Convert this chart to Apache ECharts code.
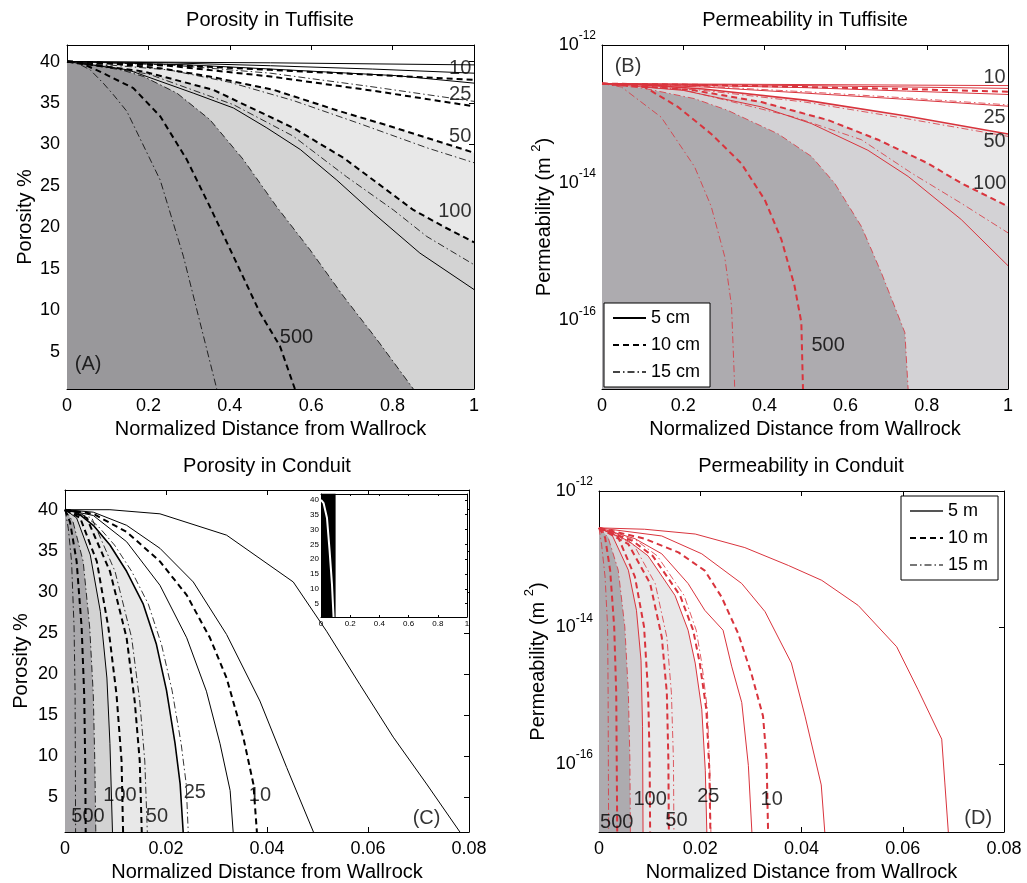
<!DOCTYPE html>
<html><head><meta charset="utf-8">
<script src="https://cdn.jsdelivr.net/npm/echarts@6/dist/echarts.min.js"></script>
<style>html,body{margin:0;padding:0;background:#fff}#c{width:1027px;height:883px}</style>
</head><body><div id="c"></div>
<script>
// ---------- tick labels ----------
const porosityTicks = [5,10,15,20,25,30,35,40];
const permTicks = [1e-16,1e-14,1e-12];

// ---------- Panel A: Porosity in Tuffisite (x: normalized distance, y: porosity %) ----------
const aTop1 = [[0,40],[0.5,39.85],[1,39.6]];
const aTop2 = [[0,40],[0.25,39.85],[0.5,39.5],[0.75,39.1],[1,38.6]];
const aTop3 = [[0,40],[0.25,39.6],[0.5,39.0],[0.75,38.4],[1,37.8]];
const aTop4 = [[0,40],[0.3,39.6],[0.5,39.1],[0.81,38.3],[1,37.4]];
const aTop5 = [[0,40],[0.25,39.6],[0.5,38.6],[0.744,37.0],[1,35.2]];
const aTop6 = [[0,40],[0.25,39.5],[0.5,38.2],[0.75,36.5],[1,34.6]];
const a50Dash = [[0,40],[0.1,39.8],[0.229,39.2],[0.35,38.2],[0.507,36.6],[0.671,34.0],[0.794,32.2],[0.949,29.8],[1,29.0]];
const a50DashDot = [[0,40],[0.25,39.0],[0.4,37.5],[0.556,35.3],[0.72,32.5],[0.884,29.6],[1,27.8]];
const a100Dash = [[0,40],[0.188,38.8],[0.359,36.6],[0.556,32.0],[0.679,28.4],[0.761,25.4],[0.851,22.1],[0.925,20.1],[1,18.2]];
const a100DashDot = [[0,40],[0.2,38.5],[0.409,34.8],[0.556,31.0],[0.687,26.1],[0.802,22.1],[0.884,18.9],[1,15.5]];
const a100Solid = [[0,40],[0.15,39.0],[0.31,36.2],[0.409,34.4],[0.491,32.0],[0.573,29.4],[0.663,25.7],[0.753,21.7],[0.867,16.9],[1,12.5]];
const a500Edge = [[0,40],[0.1,39.5],[0.188,38.2],[0.27,36.2],[0.351,33.0],[0.433,28.2],[0.515,22.5],[0.597,17.3],[0.679,11.7],[0.761,6.5],[0.851,0.5]];
const a500Dash = [[0,40],[0.04,39.7],[0.089,38.6],[0.13,37.6],[0.163,36.8],[0.229,33.4],[0.294,28.2],[0.351,22.5],[0.409,16.5],[0.474,9.7],[0.523,5.7],[0.56,0.5]];
const a500DashDot = [[0,40],[0.03,39.7],[0.057,39.0],[0.089,37.4],[0.114,36.0],[0.147,34.0],[0.229,25.7],[0.286,16.5],[0.327,8.5],[0.368,0.5]];
const labelsA = [['10',0.966,39.2],['25',0.966,36.0],['50',0.966,31.0],['100',0.953,21.9],['500',0.564,6.7],['(A)',0.052,3.5]];

// ---------- Panel B: Permeability in Tuffisite (m^2) ----------
const bTop1 = [[0,2.75e-13],[0.5,2.66e-13],[1,2.57e-13]];
const bTop2 = [[0,2.75e-13],[0.5,2.57e-13],[1,2.34e-13]];
const bTop3 = [[0,2.75e-13],[0.25,2.63e-13],[0.5,2.45e-13],[0.75,2.29e-13],[1,2.09e-13]];
const bTop4 = [[0,2.75e-13],[0.5,2.40e-13],[0.75,2.14e-13],[1,1.91e-13]];
const bTop5 = [[0,2.75e-13],[0.25,2.51e-13],[0.5,2.09e-13],[0.75,1.70e-13],[1,1.35e-13]];
const bTop6 = [[0,2.75e-13],[0.25,2.45e-13],[0.5,2.0e-13],[0.75,1.62e-13],[1,1.29e-13]];
const b50Top = [[0,2.75e-13],[0.1,2.63e-13],[0.25,2.29e-13],[0.5,1.58e-13],[0.75,9.3e-14],[1,5.1e-14]];
const b50DashDot = [[0,2.75e-13],[0.25,2.19e-13],[0.5,1.48e-13],[0.75,8.5e-14],[1,4.7e-14]];
const b100Dash = [[0,2.75e-13],[0.1,2.51e-13],[0.228,2.19e-13],[0.393,1.48e-13],[0.557,8.1e-14],[0.68,4.2e-14],[0.803,1.9e-14],[0.885,9.8e-15],[1,4.5e-15]];
const b100DashDot = [[0,2.75e-13],[0.2,2.24e-13],[0.475,8.9e-14],[0.639,4.2e-14],[0.762,1.38e-14],[0.885,5.0e-15],[1,1.86e-15]];
const b100Solid = [[0,2.75e-13],[0.2,2.19e-13],[0.393,1.26e-13],[0.516,7.2e-14],[0.655,2.95e-14],[0.754,1.23e-14],[0.885,2.9e-15],[1,6.2e-16]];
const b500Edge = [[0,2.75e-13],[0.105,2.34e-13],[0.228,1.66e-13],[0.31,1.12e-13],[0.434,5.1e-14],[0.516,2.4e-14],[0.573,9.8e-15],[0.639,2.3e-15],[0.688,4.9e-16],[0.746,6.6e-17],[0.754,1e-17]];
const b500Dash = [[0,2.75e-13],[0.105,2.45e-13],[0.187,1.26e-13],[0.269,5.1e-14],[0.343,1.9e-14],[0.401,5.6e-15],[0.442,1.48e-15],[0.474,3.2e-16],[0.491,9.3e-17],[0.495,1e-17]];
const b500DashDot = [[0,2.75e-13],[0.048,2.45e-13],[0.146,8.9e-14],[0.228,1.7e-14],[0.269,4.5e-15],[0.302,8.5e-16],[0.319,1.62e-16],[0.327,1e-17]];
const labelsB = [['(B)',0.064,4.8e-13],['10',0.967,3.4e-13],['25',0.967,8.9e-14],['50',0.967,3.9e-14],['100',0.955,9.8e-15],['500',0.557,4.3e-17]];

// ---------- Panel C: Porosity in Conduit ----------
const cS1 = [[0,40],[0.0089,40.0],[0.0188,39.5],[0.032,36.9],[0.0452,31.2],[0.0518,25.2],[0.0584,18.7],[0.065,12.3],[0.0716,6.6],[0.0782,0.75]];
const cS2 = [[0,40],[0.0056,39.7],[0.0122,38.1],[0.0188,35.3],[0.0254,31.2],[0.032,24.8],[0.0386,16.7],[0.0439,8.6],[0.0492,0.75]];
const cD1 = [[0,40],[0.0056,39.5],[0.0122,37.3],[0.0188,33.7],[0.0241,29.6],[0.0287,24.4],[0.032,19.5],[0.0353,12.3],[0.0373,6.6],[0.038,0.75]];
const cS3 = [[0,40],[0.0056,39.3],[0.0122,36.1],[0.0188,30.8],[0.0241,24.4],[0.028,17.9],[0.0307,11.5],[0.0327,5.8],[0.0333,0.75]];
const cLight = [[0,40],[0.0023,39.7],[0.0056,38.1],[0.0089,35.7],[0.0122,32.5],[0.0155,28.5],[0.0181,23.6],[0.0201,18.0],[0.0218,11.5],[0.0228,6.6],[0.0234,0.75]];
const cLightDashDot = [[0,40],[0.0028,39.7],[0.0064,38.1],[0.0098,35.7],[0.0132,32.5],[0.0165,28.5],[0.0191,23.6],[0.0212,18.0],[0.023,11.5],[0.024,6.6],[0.0244,0.75]];
const cG = [[0,40],[0.0043,39.0],[0.0089,32.5],[0.0122,24.4],[0.0138,16.7],[0.0148,9.4],[0.0152,0.75]];
const cH = [[0,40],[0.0053,39.0],[0.0099,32.5],[0.0132,24.4],[0.0148,16.7],[0.0158,9.4],[0.0163,0.75]];
const cE = [[0,40],[0.003,39.0],[0.0063,33.7],[0.0086,25.6],[0.0102,17.5],[0.0112,9.4],[0.0115,0.75]];
const cMedium = [[0,40],[0.0023,39.0],[0.005,34.5],[0.007,27.6],[0.0083,19.5],[0.0089,11.5],[0.0094,0.75]];
const cDark = [[0,40],[0.0016,38.5],[0.0036,33.7],[0.0049,25.6],[0.0056,17.5],[0.0059,9.4],[0.0061,0.75]];
const cB = [[0,40],[0.001,38.5],[0.0023,33.7],[0.0033,25.6],[0.0038,17.5],[0.004,9.4],[0.0041,0.75]];
const cA = [[0,40],[0.00066,37.7],[0.0013,33.7],[0.0018,25.6],[0.002,17.5],[0.0021,0.75]];
const labelsC = [['500',0.00455,2.6],['100',0.0109,5.15],['50',0.0182,2.7],['25',0.0257,5.6],['10',0.0386,5.15],['(C)',0.0716,2.4]];
// inset (full normalized width)
const insetBand = [[0,42],[0.1,42]];
const insetCurve = [[0,40],[0.018,38.9],[0.041,33.9],[0.059,22.8],[0.075,11.7],[0.086,0.5]];

// ---------- Panel D: Permeability in Conduit ----------
const dS1 = [[0,2.88e-13],[0.009,2.75e-13],[0.019,2.34e-13],[0.0288,1.48e-13],[0.0374,8.1e-14],[0.044,4.9e-14],[0.0512,2.1e-14],[0.0588,5.2e-15],[0.063,1.23e-15],[0.0677,2.3e-16],[0.0683,5.4e-17],[0.069,1e-17]];
const dS2 = [[0,2.88e-13],[0.0124,2.19e-13],[0.0203,1.2e-13],[0.0282,4.4e-14],[0.0328,1.7e-14],[0.038,3.0e-15],[0.0407,5.0e-16],[0.0439,4.9e-17],[0.0446,1e-17]];
const dD1 = [[0,2.88e-13],[0.009,2.0e-13],[0.0157,1.26e-13],[0.0209,6.8e-14],[0.0242,2.8e-14],[0.0275,8.1e-15],[0.0301,2.1e-15],[0.0324,5.0e-16],[0.0331,1.17e-16],[0.0334,1e-17]];
const dS3 = [[0,2.88e-13],[0.0071,2.0e-13],[0.0124,1.2e-13],[0.0176,4.4e-14],[0.0209,1.78e-14],[0.0245,9.1e-15],[0.0262,2.7e-15],[0.0282,7.9e-16],[0.0295,9.5e-17],[0.0302,1e-17]];
const dLight = [[0,2.88e-13],[0.0058,1.86e-13],[0.0097,1.12e-13],[0.015,2.95e-14],[0.0176,9.1e-15],[0.019,3.0e-15],[0.0203,6.3e-16],[0.021,7.9e-17],[0.0213,1e-17]];
const dLightDash = [[0,2.88e-13],[0.0066,1.86e-13],[0.0106,1.12e-13],[0.016,2.95e-14],[0.0186,9.1e-15],[0.0199,3.0e-15],[0.0212,6.3e-16],[0.0218,7.9e-17],[0.022,1e-17]];
const dLightDashDot = [[0,2.88e-13],[0.0075,1.86e-13],[0.0115,1.12e-13],[0.0168,2.95e-14],[0.0192,9.1e-15],[0.0203,3.0e-15],[0.0214,6.3e-16],[0.0219,7.9e-17],[0.0221,1e-17]];
const dF = [[0,2.88e-13],[0.0058,1.66e-13],[0.0101,4.4e-14],[0.0124,7.2e-15],[0.0134,1.1e-15],[0.0137,1.17e-16],[0.0138,1e-17]];
const dG = [[0,2.88e-13],[0.0068,1.66e-13],[0.0111,4.4e-14],[0.0134,7.2e-15],[0.0143,1.1e-15],[0.0147,1.17e-16],[0.0148,1e-17]];
const dMedium = [[0,2.88e-13],[0.0025,2.34e-13],[0.0058,6.9e-14],[0.0074,1.78e-14],[0.0083,3.3e-15],[0.0086,3.5e-16],[0.0087,1e-17]];
const dE = [[0,2.88e-13],[0.0038,2.09e-13],[0.0071,5.5e-14],[0.0089,1.02e-14],[0.0097,1.1e-15],[0.01,1.17e-16],[0.0101,1e-17]];
const dDark = [[0,2.88e-13],[0.0018,2.09e-13],[0.0038,6.9e-14],[0.0051,1.02e-14],[0.0058,1.1e-15],[0.0061,1.17e-16],[0.0062,1e-17]];
const dB = [[0,2.88e-13],[0.0012,2.09e-13],[0.0022,6.9e-14],[0.003,1.02e-14],[0.0034,1.1e-15],[0.0035,1.17e-16],[0.0036,1e-17]];
const dA = [[0,2.88e-13],[0.0005,1.66e-13],[0.0012,5.5e-14],[0.0017,1.02e-14],[0.0018,1.1e-15],[0.0019,1e-17]];
const labelsD = [['500',0.0035,1.4e-17],['100',0.0101,2.95e-17],['50',0.0153,1.5e-17],['25',0.0216,3.3e-17],['10',0.0341,2.95e-17],['(D)',0.0749,1.58e-17]];

// ---------- building ----------
const FONT = '"Liberation Sans", Arial, Helvetica, sans-serif';
const RED = '#d9343d';
const STY = {
  solid:   {width:1, type:'solid'},
  thick:   {width:1.6, type:'solid'},
  dashed:  {width:2, type:[6,4]},
  dashdot: {width:0.8, type:[7,3,1.5,3]}
};
const grids = [], xAxes = [], yAxes = [], series = [];

function axisCommon(gi, pos, z) {
  return {gridIndex:gi, position:pos, z:z||0, splitLine:{show:false},
    axisLine:{show:true, onZero:false, lineStyle:{color:'#000', width:1}}};
}
function makePanel(gi, x, y, z) {
  const tl = x.tickLen || 5;
  xAxes.push(Object.assign(axisCommon(gi,'bottom',z), {type:'value', min:x.min, max:x.max, interval:x.interval,
    axisTick:{inside:true, length:tl, lineStyle:{color:'#000'}},
    axisLabel:{color:'#000', fontSize:x.fs, fontFamily:FONT, margin:x.margin},
    name:x.name||'', nameLocation:'middle', nameGap:x.nameGap||0,
    nameTextStyle:{color:'#000', fontSize:20, fontFamily:FONT}}));
  xAxes.push(Object.assign(axisCommon(gi,'top',z), {type:'value', min:x.min, max:x.max, interval:x.interval,
    axisTick:{inside:true, length:tl, lineStyle:{color:'#000'}}, axisLabel:{show:false}}));
  const yb = {type:y.type, min:y.min, max:y.max};
  if (y.type === 'log') yb.logBase = 10;
  const lab = {customValues:y.ticks, color:'#000', fontSize:y.fs, fontFamily:FONT, margin:y.margin};
  if (y.formatter) lab.formatter = y.formatter;
  if (y.rich) lab.rich = y.rich;
  const nts = {color:'#000', fontSize:20, fontFamily:FONT};
  if (y.nameRich) nts.rich = y.nameRich;
  yAxes.push(Object.assign(axisCommon(gi,'left',z), yb, {
    axisTick:{inside:true, length:tl, customValues:y.ticks, lineStyle:{color:'#000'}},
    axisLabel:lab, name:y.name||'', nameLocation:'middle', nameGap:y.nameGap||0, nameRotate:90, nameTextStyle:nts}));
  yAxes.push(Object.assign(axisCommon(gi,'right',z), yb, {
    axisTick:{inside:true, length:tl, customValues:y.ticks, lineStyle:{color:'#000'}}, axisLabel:{show:false}}));
}
function lineS(g, data, kind, color, name, z) {
  const st = STY[kind];
  const s = {type:'line', xAxisIndex:2*g, yAxisIndex:2*g, data:data, symbol:'none', showSymbol:false,
    clip:true, silent:true, animation:false, z:z||3,
    lineStyle:{color:color, width:st.width, type:st.type}};
  if (name) s.name = name;
  return s;
}
function fillS(g, data, color, z) {
  return {type:'line', xAxisIndex:2*g, yAxisIndex:2*g, data:data, symbol:'none', showSymbol:false,
    clip:true, silent:true, animation:false, z:z||2,
    lineStyle:{width:0, opacity:0}, areaStyle:{color:color, opacity:1, origin:'start'}};
}
function labelS(g, arr, fs) {
  return {type:'scatter', xAxisIndex:2*g, yAxisIndex:2*g, symbol:'circle', symbolSize:0, silent:true, z:10,
    itemStyle:{color:'transparent'},
    data:arr.map(d => ({name:d[0], value:[d[1], d[2]]})),
    label:{show:true, position:'inside', formatter:'{b}', color:'#000', fontSize:fs, fontFamily:FONT}};
}
const logFmt = v => '{b|10}{s|' + Math.round(Math.log10(v)) + '}';
const logRich = {
  b:{fontSize:18, fontFamily:FONT, color:'#000', lineHeight:30, verticalAlign:'middle'},
  s:{fontSize:12, fontFamily:FONT, color:'#000', lineHeight:14, verticalAlign:'top'}
};
const permNameRich = {
  a:{fontSize:20, fontFamily:FONT, color:'#000', lineHeight:30, verticalAlign:'middle'},
  s:{fontSize:13, fontFamily:FONT, color:'#000', lineHeight:14, verticalAlign:'top'}
};
const permName = '{a|Permeability (m }{s|2}{a|)}';
const xName = 'Normalized Distance from Wallrock';

// grids
grids.push({left:67, top:45, width:407, height:344});
grids.push({left:602, top:45, width:406, height:344});
grids.push({left:65, top:490, width:404, height:343});
grids.push({left:599, top:491, width:405, height:342});
grids.push({left:321, top:494, width:146, height:123, show:true, backgroundColor:'#fff', borderWidth:0, z:5});

makePanel(0, {min:0,max:1,interval:0.2,fs:18,margin:8,name:xName,nameGap:30},
             {type:'value',min:0.5,max:42,ticks:porosityTicks,fs:18,margin:7,name:'Porosity %',nameGap:32});
makePanel(1, {min:0,max:1,interval:0.2,fs:18,margin:8,name:xName,nameGap:30},
             {type:'log',min:1e-17,max:1e-12,ticks:permTicks,fs:18,margin:6,formatter:logFmt,rich:logRich,name:permName,nameRich:permNameRich,nameGap:36});
makePanel(2, {min:0,max:0.08,interval:0.02,fs:18,margin:8,name:xName,nameGap:30},
             {type:'value',min:0.75,max:42.4,ticks:porosityTicks,fs:18,margin:7,name:'Porosity %',nameGap:34});
makePanel(3, {min:0,max:0.08,interval:0.02,fs:18,margin:8,name:xName,nameGap:30},
             {type:'log',min:1e-17,max:1e-12,ticks:permTicks,fs:18,margin:6,formatter:logFmt,rich:logRich,name:permName,nameRich:permNameRich,nameGap:46});
makePanel(4, {min:0,max:1,interval:0.2,fs:8,margin:3,tickLen:2},
             {type:'value',min:0.5,max:42,ticks:porosityTicks,fs:8,margin:2}, 6);

// ----- Panel A series -----
const GA = {light:'#e8e8e8', medium:'#d3d3d3', dark:'#99989b'};
series.push(fillS(0, a50Dash, GA.light), fillS(0, a100Dash, GA.medium), fillS(0, a500Edge, GA.dark));
series.push(
  lineS(0, aTop1, 'solid', '#000'), lineS(0, aTop2, 'solid', '#000'), lineS(0, aTop3, 'dashed', '#000'),
  lineS(0, aTop4, 'solid', '#000'), lineS(0, aTop5, 'dashdot', '#000'), lineS(0, aTop6, 'dashed', '#000'),
  lineS(0, a50Dash, 'dashed', '#000'), lineS(0, a50DashDot, 'dashdot', '#000'),
  lineS(0, a100Dash, 'dashed', '#000'), lineS(0, a100DashDot, 'dashdot', '#000'), lineS(0, a100Solid, 'solid', '#000'),
  lineS(0, a500Edge, 'dashdot', '#000'), lineS(0, a500Dash, 'dashed', '#000'), lineS(0, a500DashDot, 'dashdot', '#000'),
  labelS(0, labelsA, 20));

// ----- Panel B series -----
const GB = {light:'#e8e8e9', medium:'#d3d2d5', dark:'#adabaf'};
series.push(fillS(1, b50Top, GB.light), fillS(1, b100Dash, GB.medium), fillS(1, b500Edge, GB.dark));
series.push(
  lineS(1, bTop1, 'solid', RED), lineS(1, bTop2, 'solid', RED), lineS(1, bTop3, 'dashed', RED),
  lineS(1, bTop4, 'solid', RED), lineS(1, bTop5, 'dashdot', RED), lineS(1, bTop6, 'solid', RED),
  lineS(1, b50Top, 'thick', RED), lineS(1, b50DashDot, 'dashdot', RED),
  lineS(1, b100Dash, 'dashed', RED, '10 cm'), lineS(1, b100DashDot, 'dashdot', RED, '15 cm'), lineS(1, b100Solid, 'solid', RED, '5 cm'),
  lineS(1, b500Edge, 'dashdot', RED), lineS(1, b500Dash, 'dashed', RED), lineS(1, b500DashDot, 'dashdot', RED),
  labelS(1, labelsB, 20));

// ----- Panel C series -----
const GC = {light:'#e8e8e8', medium:'#d3d3d3', dark:'#a9a8ab'};
series.push(fillS(2, cLight, GC.light), fillS(2, cMedium, GC.medium), fillS(2, cDark, GC.dark));
series.push(
  lineS(2, cS1, 'solid', '#000'), lineS(2, cS2, 'solid', '#000'), lineS(2, cD1, 'dashed', '#000'), lineS(2, cS3, 'solid', '#000'),
  lineS(2, cLight, 'thick', '#000'), lineS(2, cLightDashDot, 'dashdot', '#000'),
  lineS(2, cG, 'dashed', '#000'), lineS(2, cH, 'dashdot', '#000'), lineS(2, cE, 'dashed', '#000'),
  lineS(2, cMedium, 'solid', '#000'), lineS(2, cDark, 'dashdot', '#000'), lineS(2, cB, 'dashed', '#000'), lineS(2, cA, 'dashdot', '#000'),
  labelS(2, labelsC, 20));
// inset
series.push(
  {type:'line', xAxisIndex:8, yAxisIndex:8, data:insetBand, symbol:'none', silent:true, z:7, clip:true,
   lineStyle:{color:'#000', width:1}, areaStyle:{color:'#000', opacity:1, origin:'start'}},
  {type:'line', xAxisIndex:8, yAxisIndex:8, data:insetCurve, symbol:'none', silent:true, z:8, clip:true,
   lineStyle:{color:'#fff', width:2}});

// ----- Panel D series -----
series.push(fillS(3, dLight, GB.light), fillS(3, dMedium, GB.medium), fillS(3, dDark, GB.dark));
series.push(
  lineS(3, dS1, 'solid', RED, '5 m'), lineS(3, dS2, 'solid', RED), lineS(3, dD1, 'dashed', RED, '10 m'), lineS(3, dS3, 'solid', RED),
  lineS(3, dLight, 'solid', RED), lineS(3, dLightDash, 'dashed', RED), lineS(3, dLightDashDot, 'dashdot', RED, '15 m'),
  lineS(3, dF, 'dashed', RED), lineS(3, dG, 'dashdot', RED), lineS(3, dMedium, 'solid', RED),
  lineS(3, dE, 'dashed', RED), lineS(3, dDark, 'dashdot', RED), lineS(3, dB, 'dashed', RED), lineS(3, dA, 'dashdot', RED),
  labelS(3, labelsD, 20));

const titleStyle = {fontSize:20, fontWeight:'normal', color:'#000', fontFamily:FONT};
const legendBase = {orient:'vertical', itemWidth:33, itemHeight:14, itemGap:7, padding:[5,10,5,8],
  borderColor:'#000', borderWidth:1, backgroundColor:'#fff', selectedMode:false, z:20,
  itemStyle:{opacity:0, borderWidth:0},
  textStyle:{fontSize:18, color:'#000', fontFamily:FONT, lineHeight:20}};
const noSym = {opacity:0, borderWidth:0};

const chart = echarts.init(document.getElementById('c'), null, {renderer:'canvas'});
chart.setOption({
  animation:false,
  backgroundColor:'#fff',
  title:[
    {text:'Porosity in Tuffisite', left:270, top:10, textAlign:'center', padding:0, textStyle:titleStyle},
    {text:'Permeability in Tuffisite', left:805, top:10, textAlign:'center', padding:0, textStyle:titleStyle},
    {text:'Porosity in Conduit', left:267, top:456, textAlign:'center', padding:0, textStyle:titleStyle},
    {text:'Permeability in Conduit', left:801, top:456, textAlign:'center', padding:0, textStyle:titleStyle}
  ],
  grid:grids, xAxis:xAxes, yAxis:yAxes,
  legend:[
    Object.assign({}, legendBase, {left:604, top:303, data:[
      {name:'5 cm', lineStyle:{color:'#000'}, itemStyle:noSym},
      {name:'10 cm', lineStyle:{color:'#000'}, itemStyle:noSym},
      {name:'15 cm', lineStyle:{color:'#444'}, itemStyle:noSym}]}),
    Object.assign({}, legendBase, {left:901, top:496, data:[
      {name:'5 m', lineStyle:{color:'#555'}, itemStyle:noSym},
      {name:'10 m', lineStyle:{color:'#000'}, itemStyle:noSym},
      {name:'15 m', lineStyle:{color:'#777'}, itemStyle:noSym}]})
  ],
  series:series
});
</script></body></html>
